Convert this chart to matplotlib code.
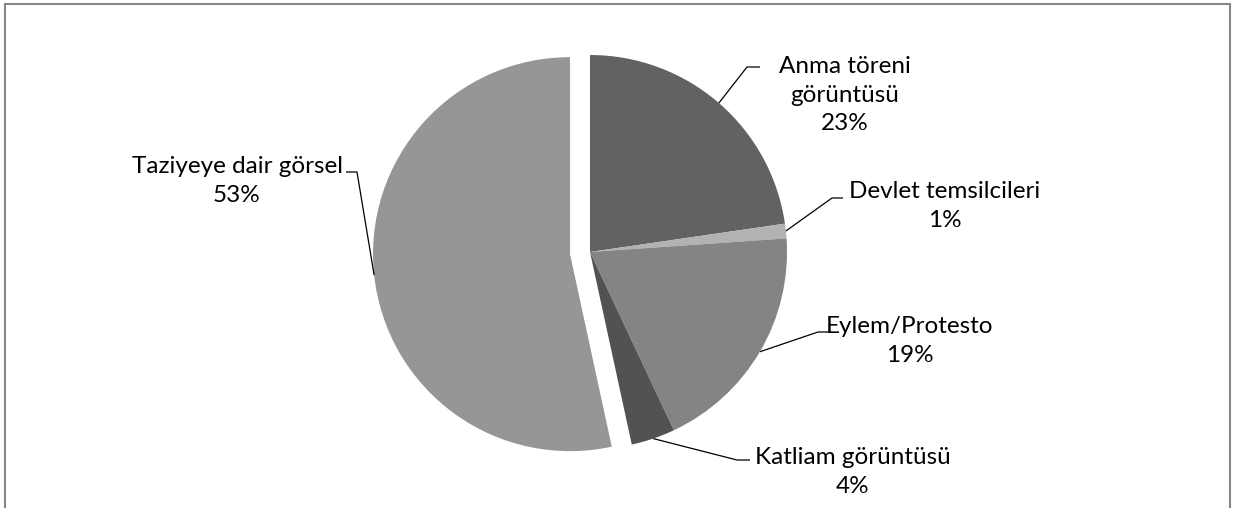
import matplotlib
matplotlib.use("Agg")
import matplotlib.pyplot as plt
from matplotlib.patches import Rectangle
import numpy as np

categories = ["Anma töreni\ngörüntüsü", "Devlet temsilcileri", "Eylem/Protesto",
              "Katliam görüntüsü", "Taziyeye dair görsel"]
values = [22.7, 1.2, 19.1, 3.6, 53.4]
colors = ["#626262", "#b2b2b2", "#848484", "#525252", "#969696"]
explode_frac = [0, 0, 0, 0, 0.102]

# label layout (pixel coords, y from top): text centre, elbow near end, elbow far end
label_pos = [(845, 95), (945, 206), (910, 341), (853, 472), (237, 181)]
elbow = [((747, 67), (760, 67)), ((832, 198), (843, 198)), ((818, 332), (830, 332)),
         ((737, 460), (750, 460)), ((357, 172), (346, 172))]

W, H = 1234, 508
fig = plt.figure(figsize=(W / 100, H / 100), dpi=100)
ax = fig.add_axes([0, 0, 1, 1])

cx, cy, R = 590, H - 252, 197
wedges, _ = ax.pie(values, colors=colors, explode=[e * R for e in explode_frac],
                   startangle=90, counterclock=False, center=(cx, cy), radius=R,
                   wedgeprops=dict(linewidth=0), frame=True)
ax.set_xlim(0, W)
ax.set_ylim(0, H)
ax.set_aspect("equal")
ax.axis("off")

font = "Lato"
for i, w in enumerate(wedges):
    th = np.deg2rad((w.theta1 + w.theta2) / 2)
    wx, wy = w.center
    anchor = (wx + R * np.cos(th), wy + R * np.sin(th))
    (e1x, e1y), (e2x, e2y) = elbow[i]
    ax.plot([anchor[0], e1x, e2x], [anchor[1], H - e1y, H - e2y], color="black",
            lw=0.9, solid_capstyle="butt")
    pct = f"{round(values[i] / sum(values) * 100)}%"
    tx, ty = label_pos[i]
    ax.text(tx, H - ty, f"{categories[i]}\n{pct}", ha="center", va="center",
            fontsize=17.5, family=font, linespacing=1.42, color="black")

fig.patches.append(Rectangle((4.5 / W, -0.1), (1230 - 4.5) / W, 1.1 - 4.5 / H,
                             transform=fig.transFigure, fill=False,
                             edgecolor="#878787", linewidth=1.5))
fig.savefig("out.png", dpi=100)
